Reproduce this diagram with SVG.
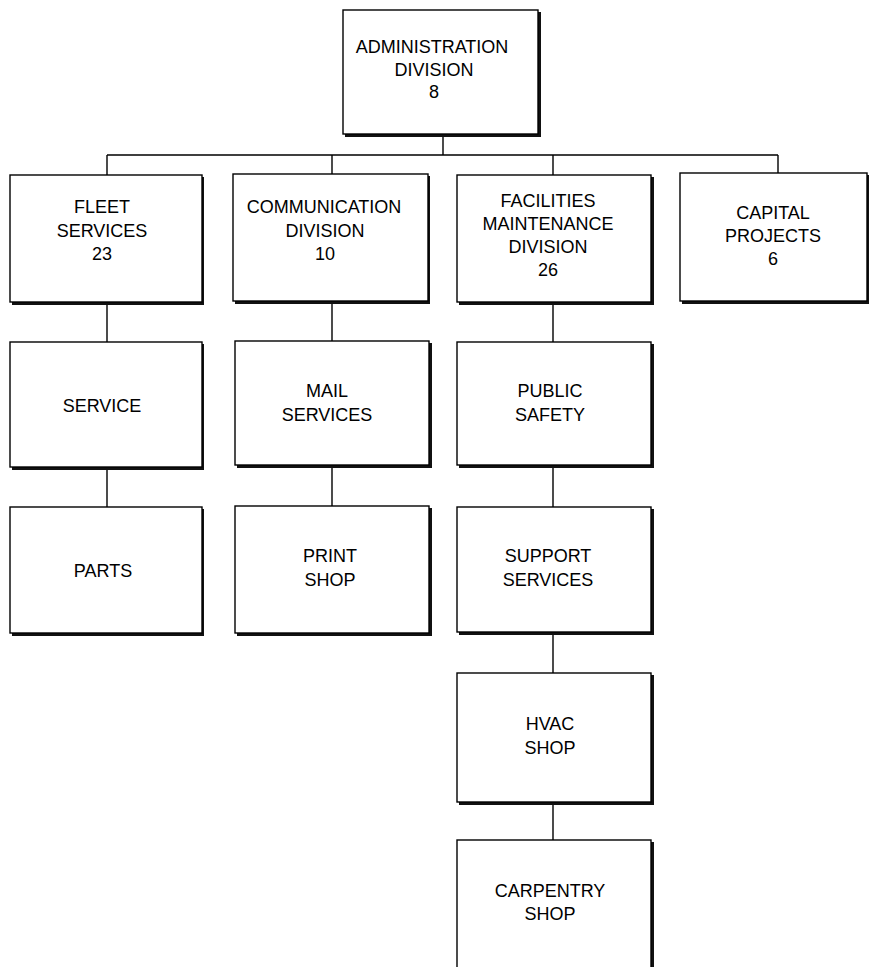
<svg xmlns="http://www.w3.org/2000/svg" width="869" height="967" viewBox="0 0 869 967">
<style>
.shadow{fill:#111}
.box{fill:#fff;stroke:#000;stroke-width:1.4}
.lbl{font-family:"Liberation Sans",Arial,sans-serif;font-size:18px;fill:#000;text-anchor:middle}
.conn{stroke:#000;stroke-width:1.4;fill:none}
</style>
<rect width="869" height="967" fill="#fff"/>
<g id="connectors">
<path class="conn" d="M443 135V155M107 155H778M107 155V175M332 155V174M553 155V175M778 155V173"/>
<path class="conn" d="M107 303V342M107 467V507"/>
<path class="conn" d="M332 302V341M332 465V506"/>
<path class="conn" d="M553 303V342M553 465V507M553 632V673M553 802V840"/>
</g>
<g id="admin">
<rect class="shadow" x="345" y="12" width="196" height="125"/>
<rect class="box" x="343" y="10" width="195" height="124"/>
<text class="lbl" x="432" y="53">ADMINISTRATION</text>
<text class="lbl" x="434" y="76">DIVISION</text>
<text class="lbl" x="434" y="98">8</text>
</g>
<g id="fleet">
<rect class="shadow" x="12" y="177" width="192" height="128"/>
<rect class="box" x="10" y="175" width="192" height="127"/>
<text class="lbl" x="102" y="213">FLEET</text>
<text class="lbl" x="102" y="237">SERVICES</text>
<text class="lbl" x="102" y="260">23</text>
</g>
<g id="communication">
<rect class="shadow" x="235" y="176" width="195" height="128"/>
<rect class="box" x="233" y="174" width="195" height="127"/>
<text class="lbl" x="324" y="213">COMMUNICATION</text>
<text class="lbl" x="325" y="237">DIVISION</text>
<text class="lbl" x="325" y="260">10</text>
</g>
<g id="facilities">
<rect class="shadow" x="459" y="177" width="195" height="128"/>
<rect class="box" x="457" y="175" width="194" height="127"/>
<text class="lbl" x="548" y="207">FACILITIES</text>
<text class="lbl" x="548" y="230">MAINTENANCE</text>
<text class="lbl" x="548" y="253">DIVISION</text>
<text class="lbl" x="548" y="276">26</text>
</g>
<g id="capital">
<rect class="shadow" x="682" y="175" width="189" height="129"/>
<rect class="box" x="680" y="173" width="187" height="128"/>
<text class="lbl" x="773" y="219">CAPITAL</text>
<text class="lbl" x="773" y="242">PROJECTS</text>
<text class="lbl" x="773" y="265">6</text>
</g>
<g id="service">
<rect class="shadow" x="12" y="344" width="192" height="126"/>
<rect class="box" x="10" y="342" width="192" height="125"/>
<text class="lbl" x="102" y="412">SERVICE</text>
</g>
<g id="mail">
<rect class="shadow" x="237" y="343" width="195" height="125"/>
<rect class="box" x="235" y="341" width="194" height="124"/>
<text class="lbl" x="327" y="397">MAIL</text>
<text class="lbl" x="327" y="421">SERVICES</text>
</g>
<g id="publicsafety">
<rect class="shadow" x="459" y="344" width="195" height="124"/>
<rect class="box" x="457" y="342" width="194" height="123"/>
<text class="lbl" x="550" y="397">PUBLIC</text>
<text class="lbl" x="550" y="421">SAFETY</text>
</g>
<g id="parts">
<rect class="shadow" x="12" y="509" width="192" height="127"/>
<rect class="box" x="10" y="507" width="192" height="126"/>
<text class="lbl" x="103" y="577">PARTS</text>
</g>
<g id="print">
<rect class="shadow" x="237" y="508" width="195" height="128"/>
<rect class="box" x="235" y="506" width="194" height="127"/>
<text class="lbl" x="330" y="562">PRINT</text>
<text class="lbl" x="330" y="586">SHOP</text>
</g>
<g id="support">
<rect class="shadow" x="459" y="509" width="195" height="126"/>
<rect class="box" x="457" y="507" width="194" height="125"/>
<text class="lbl" x="548" y="562">SUPPORT</text>
<text class="lbl" x="548" y="586">SERVICES</text>
</g>
<g id="hvac">
<rect class="shadow" x="459" y="675" width="195" height="130"/>
<rect class="box" x="457" y="673" width="194" height="129"/>
<text class="lbl" x="550" y="730">HVAC</text>
<text class="lbl" x="550" y="754">SHOP</text>
</g>
<g id="carpentry">
<rect class="shadow" x="459" y="842" width="195" height="140"/>
<rect class="box" x="457" y="840" width="194" height="140"/>
<text class="lbl" x="550" y="897">CARPENTRY</text>
<text class="lbl" x="550" y="920">SHOP</text>
</g>
</svg>
